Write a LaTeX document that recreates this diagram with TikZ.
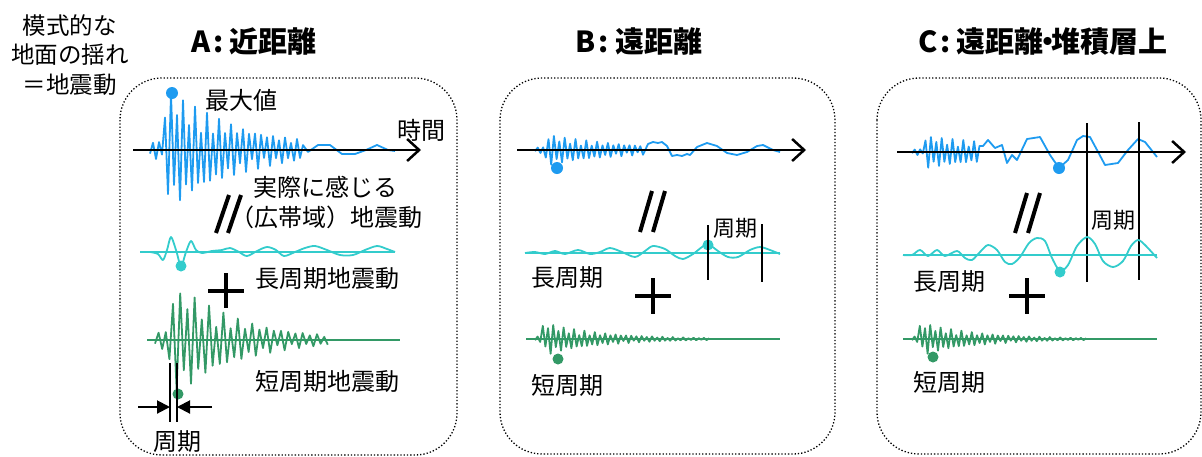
\documentclass[tikz,border=0pt]{standalone}
\usepackage{fontspec}
\newfontfamily\jp{Noto Sans CJK JP}
\usetikzlibrary{arrows.meta}
\definecolor{wb}{HTML}{1E9BF0}
\definecolor{wc}{HTML}{33CCCC}
\definecolor{wg}{HTML}{339966}
\begin{document}
\begin{tikzpicture}[x=1pt,y=-1pt,
  panel/.style={draw=black, line width=1.3pt, dash pattern=on 1.3pt off 2pt, rounded corners=42pt},
  wblue/.style={draw=wb, line width=1.8pt, line join=round},
  wcyan/.style={draw=wc, line width=1.8pt, line join=round},
  wgreen/.style={draw=wg, line width=1.8pt, line join=round},
  axisline/.style={draw=black, line width=2.5pt, -{Straight Barb[length=12pt,width=22pt,line width=2.5pt]}},
  blk/.style={draw=black, line width=4pt},
  perline/.style={draw=black, line width=2pt},
  lbl/.style={font=\jp\fontsize{24}{28}\selectfont, inner sep=0pt},
  slbl/.style={font=\jp\fontsize{22}{26}\selectfont, inner sep=0pt},
  hdr/.style={font=\jp\bfseries\fontsize{29}{34}\selectfont, inner sep=0pt},
  declare function={
    rr(\n)=0.4+0.6*abs(sin(\n*137.5));
    envA(\n)=(\n<5) ? 9 : ((\n<7) ? 45 : 60*exp(-(\n-7)*3/75));
    envAg(\n)=(\n<4) ? 9 : ((\n<5) ? 38 : ((\n<9) ? 50 : 52*exp(-(\n-8)*3.6/62)));
    envB(\n)=(\n<4) ? 3 : ((\n<9) ? 15 : 14*exp(-(\n-8)*2.7/80));
    envBg(\n)=(\n<3) ? 3 : ((\n<8) ? 15 : 14*exp(-(\n-7)*2.6/60));
    envC(\n)=(\n<5) ? 3 : ((\n<10) ? 16 : 15*exp(-(\n-9)*2.7/120));
  }]
\useasboundingbox (0,0) rectangle (1202,456);

% intro text
\node[font=\jp\fontsize{23.5}{29.5}\selectfont, inner sep=0pt, align=center] (intro) at (70,55) {模式的な\\地面の揺れ\\＝地震動};

% headers
\node[hdr] (hA) at (254,42) {A\hspace{3pt}:\hspace{6pt}近距離};
\node[hdr] (hB) at (639,42) {B\hspace{3pt}:\hspace{6pt}遠距離};
\node[hdr] (hC) at (1043,42) {C\hspace{3pt}:\hspace{6pt}遠距離\hspace{-10.5pt}・\hspace{-10.5pt}堆積層上};

% panels
\draw[panel] (120,78) rectangle (457,455);
\draw[panel] (500,78) rectangle (835,454);
\draw[panel] (877,78) rectangle (1201,454);

%================ Panel A
\draw[wblue] plot[samples at={0,...,51}, variable=\t] ({150+3*\t},{150+cos(180*\t)*envA(\t)*rr(\t)})
  -- (308,152) -- (318,145) -- (330,145) -- (342,154) -- (355,154) -- (366,150) -- (377,145) -- (388,150) -- (395,151);
\coordinate (aL) at (133,150);
\coordinate (aR) at (421,150);
\draw[axisline] (aL) -- (aR);
\fill[wb] (172,93) circle[radius=6pt];
\node[lbl] (maxA) at (241,100) {最大値};
\node[lbl] (timeA) at (421,130) {時間};

\draw[blk] (229,195) -- (216,233);
\draw[blk] (241,195) -- (228,233);
\node[lbl] (realA1) at (325,187) {実際に感じる};
\node[lbl] (realA2) at (326,217) {（広帯域）地震動};

% cyan A
\draw[wcyan] (140,252) -- (395,252);
\draw[wcyan] plot[smooth, tension=0.5] coordinates {(150,252) (158,254) (163,260) (167,250) (171,237) (176,250) (181,266) (186,252) (191,241) (196,250) (202,253) (212,251) (222,250) (230,248) (239,252) (247,256) (257,251) (267,247) (276,250) (284,256) (295,252) (305,248) (315,246) (327,250) (340,255) (353,255) (365,250) (377,246) (387,249) (395,252)};
\fill[wc] (181,266) circle[radius=5.5pt];
\node[lbl] (longA) at (327,278) {長周期地震動};

% plus A
\draw[blk] (208,291) -- (244,291);
\draw[blk] (226,273) -- (226,308);

% green A
\draw[wgreen] (147,340) -- (400,340);
\draw[wgreen] plot[samples at={0,...,48}, variable=\t] ({155+3.6*\t},{340+cos(180*\t)*envAg(\t)*rr(\t)});
\fill[wg] (178,394) circle[radius=5.5pt];
\node[lbl] (shortA) at (327,381) {短周期地震動};

% period markers A
\coordinate (pA1t) at (170,363); \coordinate (pA1b) at (170,422);
\coordinate (pA2t) at (177,363); \coordinate (pA2b) at (177,422);
\draw[perline] (pA1t) -- (pA1b);
\draw[perline] (pA2t) -- (pA2b);
\coordinate (arL) at (138,407); \coordinate (arLe) at (170,407);
\coordinate (arR) at (212,407); \coordinate (arRe) at (177,407);
\draw[line width=2pt, -{Triangle[length=13pt,width=13pt]}] (arL) -- (arLe);
\draw[line width=2pt, -{Triangle[length=13pt,width=13pt]}] (arR) -- (arRe);
\node[lbl] (perA) at (177,442) {周期};

%================ Panel B
\draw[wblue] plot[samples at={0,...,40}, variable=\t] ({535+2.7*\t},{150+cos(180*\t)*envB(\t)*rr(\t)})
  -- (648,144) -- (653,142) -- (658,143) -- (662,142) -- (667,146) -- (672,156) -- (677,155) -- (682,156) -- (687,154) -- (690,155) -- (697,147) -- (707,143) -- (717,146) -- (727,153) -- (737,155) -- (747,152) -- (757,146) -- (763,145) -- (773,150) -- (780,152);
\coordinate (bL) at (517,150);
\coordinate (bR) at (806,150);
\draw[axisline] (bL) -- (bR);
\fill[wb] (557,168) circle[radius=6pt];

\draw[blk] (652,191) -- (640,232);
\draw[blk] (665,191) -- (653,232);

\draw[wcyan] (525,253) -- (780,253);
\draw[wcyan] plot[smooth, tension=0.5] coordinates {(525,253) (535,252) (545,254) (555,251) (565,254) (578,250) (590,254) (600,252) (610,248) (622,252) (635,257) (645,251) (653,246) (665,249) (675,256) (683,259) (693,254) (702,247) (708,244) (718,251) (728,257) (738,257) (750,250) (760,247) (770,250) (780,254)};
\fill[wc] (708,245) circle[radius=5.5pt];
\coordinate (pB1t) at (708,225); \coordinate (pB1b) at (708,280);
\coordinate (pB2t) at (762,224); \coordinate (pB2b) at (762,282);
\draw[perline] (pB1t) -- (pB1b);
\draw[perline] (pB2t) -- (pB2b);
\node[slbl] (perB) at (735,228) {周期};
\node[lbl] (longB) at (567,278) {長周期};

\draw[blk] (635,296) -- (671,296);
\draw[blk] (653,278) -- (653,314);

\draw[wgreen] (526,339) -- (780,339);
\draw[wgreen] plot[samples at={0,...,67}, variable=\t] ({535+2.6*\t},{339+cos(180*\t)*envBg(\t)*rr(\t)});
\fill[wg] (558,359) circle[radius=5.5pt];
\node[lbl] (shortB) at (567,385) {短周期};

%================ Panel C
\draw[wblue] plot[samples at={0,...,25}, variable=\t] ({912+2.7*\t},{152+cos(180*\t)*envC(\t)*rr(\t)})
  -- (983,146) -- (988,140) -- (995,148) -- (1002,145) -- (1007,163) -- (1012,155) -- (1017,160) -- (1027,139) -- (1040,137) -- (1050,155) -- (1059,168) -- (1068,160) -- (1077,140) -- (1083,136) -- (1090,137) -- (1097,150) -- (1105,165) -- (1118,163) -- (1128,150) -- (1138,139) -- (1145,142) -- (1157,157);
\coordinate (cL) at (897,152);
\coordinate (cR) at (1186,152);
\draw[axisline] (cL) -- (cR);
\fill[wb] (1059,168) circle[radius=6pt];

\coordinate (pC1t) at (1087,123); \coordinate (pC1b) at (1087,282);
\coordinate (pC2t) at (1139,122); \coordinate (pC2b) at (1139,280);
\draw[perline] (pC1t) -- (pC1b);
\draw[perline] (pC2t) -- (pC2b);
\node[slbl] (perC) at (1113,220) {周期};

\draw[blk] (1027,193) -- (1015,233);
\draw[blk] (1040,193) -- (1028,233);

\draw[wcyan] (903,255) -- (1157,255);
\draw[wcyan] plot[smooth, tension=0.5] coordinates {(903,255) (912,255) (920,250) (928,256) (937,250) (945,256) (957,251) (965,258) (972,260) (980,252) (988,245) (997,250) (1005,262) (1012,264) (1020,257) (1029,243) (1037,238) (1045,241) (1052,258) (1060,271) (1068,265) (1077,246) (1087,237) (1095,244) (1103,261) (1113,267) (1123,261) (1131,246) (1138,240) (1145,245) (1157,258)};
\fill[wc] (1060,272) circle[radius=5.5pt];
\node[lbl] (longC) at (949,282) {長周期};

\draw[blk] (1009,296) -- (1045,296);
\draw[blk] (1027,278) -- (1027,314);

\draw[wgreen] (903,339) -- (1157,339);
\draw[wgreen] plot[samples at={0,...,67}, variable=\t] ({912+2.6*\t},{339+cos(180*\t)*envBg(\t)*rr(\t)});
\fill[wg] (933,357) circle[radius=5.5pt];
\node[lbl] (shortC) at (949,382) {短周期};
\end{tikzpicture}
\end{document}
